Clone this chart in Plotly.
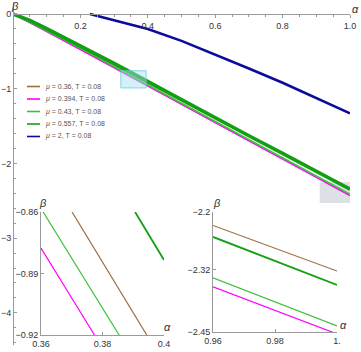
import plotly.graph_objects as go

# main plot readings
alpha = [0, 0.05, 0.1, 0.2, 0.3, 0.38, 0.5, 0.6, 0.7, 0.8, 0.9, 1.0]
beta_036 = [0, -0.10, -0.215, -0.445, -0.68, -0.875, -1.165, -1.40, -1.635, -1.87, -2.10, -2.33]
beta_0394 = [0, -0.115, -0.235, -0.475, -0.715, -0.915, -1.21, -1.455, -1.70, -1.94, -2.18, -2.43]
beta_043 = [0, -0.11, -0.225, -0.46, -0.70, -0.90, -1.195, -1.44, -1.68, -1.92, -2.165, -2.41]
beta_0557 = [0, -0.085, -0.195, -0.425, -0.66, -0.855, -1.15, -1.39, -1.63, -1.865, -2.10, -2.345]
alpha_mu2 = [0.228, 0.3, 0.4, 0.5, 0.6, 0.7, 0.8, 0.9, 1.0]
beta_mu2 = [0, -0.085, -0.2, -0.36, -0.54, -0.73, -0.92, -1.12, -1.33]

# inset 1 (zoom near alpha = 0.38)
in1_036 = ([0.3701, 0.3944], [-0.86, -0.92])
in1_0394 = ([0.36, 0.3774], [-0.8776, -0.92])
in1_043 = ([0.3607, 0.3854], [-0.86, -0.92])
in1_0557 = ([0.3906, 0.40], [-0.86, -0.8834])

# inset 2 (zoom near alpha = 1)
in2_alpha = [0.96, 1.0]
in2_036 = [-2.228, -2.323]
in2_0557 = [-2.252, -2.352]
in2_043 = [-2.337, -2.4375]
in2_0394 = [-2.356, -2.454]

labels = ["<i>μ</i> = 0.36, T = 0.08", "<i>μ</i> = 0.394, T = 0.08",
          "<i>μ</i> = 0.43, T = 0.08", "<i>μ</i> = 0.557, T = 0.08",
          "<i>μ</i> = 2, T = 0.08"]

BROWN = "#9C6B3E"
MAGENTA = "#FF00FF"
LGREEN = "#3CC03C"
DGREEN = "#11A011"
BLUE = "#0B0B9C"
colors = [BROWN, MAGENTA, LGREEN, DGREEN, BLUE]

W, H = 361, 352
FONT = "Liberation Sans"

fig = go.Figure()

# main curves
for ys, c, w in [(beta_036, BROWN, 1.6), (beta_0394, MAGENTA, 1.6),
                 (beta_043, LGREEN, 1.6), (beta_0557, DGREEN, 3.6)]:
    fig.add_trace(go.Scatter(x=alpha, y=ys, mode="lines", line=dict(color=c, width=w),
                             showlegend=False, hoverinfo="skip", xaxis="x", yaxis="y"))
fig.add_trace(go.Scatter(x=alpha_mu2, y=beta_mu2, mode="lines", line=dict(color=BLUE, width=2.6),
                         showlegend=False, hoverinfo="skip", xaxis="x", yaxis="y"))

# inset 1
for (xs, ys), c, w in [(in1_036, BROWN, 1.2), (in1_0394, MAGENTA, 1.2),
                       (in1_043, LGREEN, 1.2), (in1_0557, DGREEN, 1.8)]:
    fig.add_trace(go.Scatter(x=xs, y=ys, mode="lines", line=dict(color=c, width=w),
                             showlegend=False, hoverinfo="skip", xaxis="x2", yaxis="y2"))

# inset 2
for ys, c, w in [(in2_036, BROWN, 1.2), (in2_0394, MAGENTA, 1.2),
                 (in2_043, LGREEN, 1.2), (in2_0557, DGREEN, 1.8)]:
    fig.add_trace(go.Scatter(x=in2_alpha, y=ys, mode="lines", line=dict(color=c, width=w),
                             showlegend=False, hoverinfo="skip", xaxis="x3", yaxis="y3"))

axis_common = dict(showgrid=False, zeroline=False, showline=True, linecolor="#9a9a9a",
                   linewidth=1, tickcolor="#9a9a9a", automargin=False,
                   tickfont=dict(family=FONT, size=9, color="#333"))

shapes = [
    # inset backgrounds
    dict(type="rect", xref="x2 domain", yref="y2 domain", x0=0, x1=1, y0=0, y1=1,
         fillcolor="#F0FAFD", line=dict(width=0), layer="below"),
    dict(type="rect", xref="x3 domain", yref="y3 domain", x0=0, x1=1, y0=0, y1=1,
         fillcolor="#E9ECF0", line=dict(width=0), layer="below"),
    # zoom markers on the main plot
    dict(type="rect", xref="x", yref="y", x0=0.91, x1=1.0, y0=-2.53, y1=-2.25,
         fillcolor="#DDE1E6", line=dict(width=0), layer="below"),
    dict(type="rect", xref="x", yref="y", x0=0.32, x1=0.395, y0=-0.99, y1=-0.76,
         fillcolor="rgba(160,225,245,0.45)", line=dict(color="rgba(110,200,230,0.8)", width=1),
         layer="above"),
]


def axis_label(txt, px, py):
    return dict(text="<i>%s</i>" % txt, x=px / W, y=1 - py / H, xref="paper", yref="paper",
                xanchor="center", yanchor="middle", showarrow=False, borderpad=0,
                font=dict(family=FONT, size=11, color="#333"))


annotations = [
    axis_label("α", 355, 9),
    axis_label("β", 15, 6),
    axis_label("β", 43, 203),
    axis_label("α", 167, 327),
    axis_label("β", 217, 203),
    axis_label("α", 343, 325),
]

# hand-built legend
for i, (lab, c) in enumerate(zip(labels, colors)):
    yy = 1 - (86.5 + 12.5 * i) / H
    shapes.append(dict(type="line", xref="paper", yref="paper", x0=27 / W, x1=40 / W,
                       y0=yy, y1=yy, line=dict(color=c, width=1.6)))
    annotations.append(dict(text=lab, x=43 / W, y=yy, xref="paper", yref="paper",
                            xanchor="left", yanchor="middle", showarrow=False,
                            font=dict(family=FONT, size=7, color="#555")))

fig.update_layout(
    width=W, height=H,
    margin=dict(l=0, r=0, t=0, b=0),
    plot_bgcolor="white", paper_bgcolor="white",
    showlegend=False,
    xaxis=dict(axis_common, domain=[13 / W, 350 / W], range=[0, 1.0], anchor="free",
               position=1 - 14 / H, side="bottom", ticks="outside", ticklen=3,
               tickvals=[0.2, 0.4, 0.6, 0.8, 1.0], ticktext=["0.2", "0.4", "0.6", "0.8", "1.0"],
               minor=dict(dtick=0.05, ticks="outside", ticklen=2, tickcolor="#9a9a9a")),
    yaxis=dict(axis_common, domain=[1 - 345 / H, 1 - 2 / H], range=[-4.43, 0.16], anchor="free",
               position=13 / W, side="left", ticks="inside", ticklen=3,
               tickvals=[0, -1, -2, -3, -4], ticktext=["0", "−1", "−2", "−3", "−4"],
               minor=dict(dtick=0.2, ticks="inside", ticklen=2, tickcolor="#9a9a9a")),
    xaxis2=dict(axis_common, domain=[41 / W, 164 / W], range=[0.36, 0.40], anchor="y2",
                ticks="inside", ticklen=3, tickvals=[0.36, 0.38, 0.4],
                ticktext=["0.36", "0.38", "0.4"]),
    yaxis2=dict(axis_common, domain=[1 - 335 / H, 1 - 212 / H], range=[-0.92, -0.86], anchor="x2",
                ticks="inside", ticklen=3, tickvals=[-0.92, -0.89, -0.86],
                ticktext=["−0.92", "−0.89", "−0.86"]),
    xaxis3=dict(axis_common, domain=[213 / W, 337 / W], range=[0.96, 1.0], anchor="y3",
                ticks="inside", ticklen=3, tickvals=[0.96, 0.98, 1.0],
                ticktext=["0.96", "0.98", "1."]),
    yaxis3=dict(axis_common, domain=[1 - 332 / H, 1 - 212 / H], range=[-2.45, -2.2], anchor="x3",
                ticks="inside", ticklen=3, tickvals=[-2.45, -2.32, -2.2],
                ticktext=["−2.45", "−2.32", "−2.2"]),
    shapes=shapes,
    annotations=annotations,
)

fig.write_html("out.html", config={"displayModeBar": False},
               post_script="document.body.style.margin='0';")
